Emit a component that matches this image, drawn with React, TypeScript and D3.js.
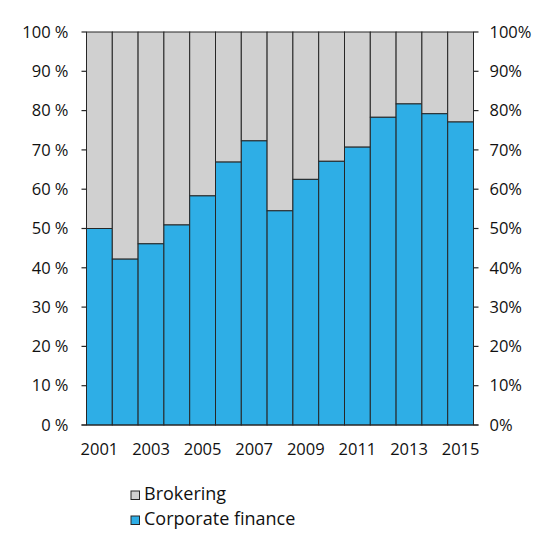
import React from "react"
import { scaleBand, scaleLinear } from "d3"

const years = [
  "2001", "2002", "2003", "2004", "2005", "2006", "2007", "2008",
  "2009", "2010", "2011", "2012", "2013", "2014", "2015",
]
const corporateFinance = [
  50, 42.2, 46.1, 50.9, 58.3, 66.9, 72.3, 54.5, 62.5, 67.1, 70.7, 78.3, 81.7, 79.2, 77.1,
]
const yTicks = [0, 10, 20, 30, 40, 50, 60, 70, 80, 90, 100]
const seriesNames = ["Brokering", "Corporate finance"]

const BLUE = "#2eaee6"
const GRAY = "#d0d0d0"
const STROKE = "#262626"
const TEXT = "#111"
const FONT = "'Open Sans', sans-serif"

const App = () => {
  // dimensions
  const width = 560
  const height = 560
  const margins = { top: 32, right: 86.5, bottom: 135, left: 86.5 }
  const boundsWidth = width - margins.left - margins.right
  const boundsHeight = height - margins.top - margins.bottom

  // scales
  const xScale = scaleBand().domain(years).range([0, boundsWidth]).padding(0)
  const yScale = scaleLinear().domain([0, 100]).range([boundsHeight, 0])

  return (
    <svg
      width={width}
      height={height}
      style={{ position: "absolute", left: 0, top: 0, background: "#fff" }}
      fontFamily={FONT}
    >
      <g transform={`translate(${margins.left},${margins.top})`}>
        {/* bars */}
        {years.map((year, i) => {
          const x = xScale(year) ?? 0
          const v = corporateFinance[i]
          return (
            <g key={year}>
              <rect
                x={x}
                y={yScale(100)}
                width={xScale.bandwidth()}
                height={yScale(v) - yScale(100)}
                fill={GRAY}
                stroke={STROKE}
                strokeWidth={1}
              />
              <rect
                x={x}
                y={yScale(v)}
                width={xScale.bandwidth()}
                height={yScale(0) - yScale(v)}
                fill={BLUE}
                stroke={STROKE}
                strokeWidth={1}
              />
            </g>
          )
        })}

        {/* baseline */}
        <line x1={-5} x2={boundsWidth + 5} y1={yScale(0)} y2={yScale(0)} stroke={STROKE} strokeWidth={1.2} />

        {/* left axis */}
        {yTicks.map((t) => (
          <g key={`l${t}`} transform={`translate(0,${yScale(t)})`}>
            <line x1={-5} x2={0} stroke={STROKE} strokeWidth={1.2} />
            <text x={-18} dy="0.35em" textAnchor="end" fontSize={16.5} fill={TEXT}>
              {`${t} %`}
            </text>
          </g>
        ))}

        {/* right axis */}
        {yTicks.map((t) => (
          <g key={`r${t}`} transform={`translate(${boundsWidth},${yScale(t)})`}>
            <line x1={0} x2={5} stroke={STROKE} strokeWidth={1.2} />
            <text x={16} dy="0.35em" textAnchor="start" fontSize={16.5} fill={TEXT}>
              {`${t}%`}
            </text>
          </g>
        ))}

        {/* x labels */}
        {years.map((year, i) =>
          i % 2 === 0 ? (
            <text
              key={`x${year}`}
              x={(xScale(year) ?? 0) + xScale.bandwidth() / 2}
              y={boundsHeight + 30}
              textAnchor="middle"
              fontSize={16.5}
              fill={TEXT}
            >
              {year}
            </text>
          ) : null,
        )}
      </g>

      {/* legend */}
      {seriesNames.map((name, i) => (
        <g key={name} transform={`translate(131,${491 + i * 25})`}>
          <rect x={0} y={0} width={8.5} height={8.5} fill={i === 0 ? GRAY : BLUE} stroke={STROKE} strokeWidth={1} />
          <text x={13} y={9} fontSize={18} fill={TEXT}>
            {name}
          </text>
        </g>
      ))}
    </svg>
  )
}

export default App
